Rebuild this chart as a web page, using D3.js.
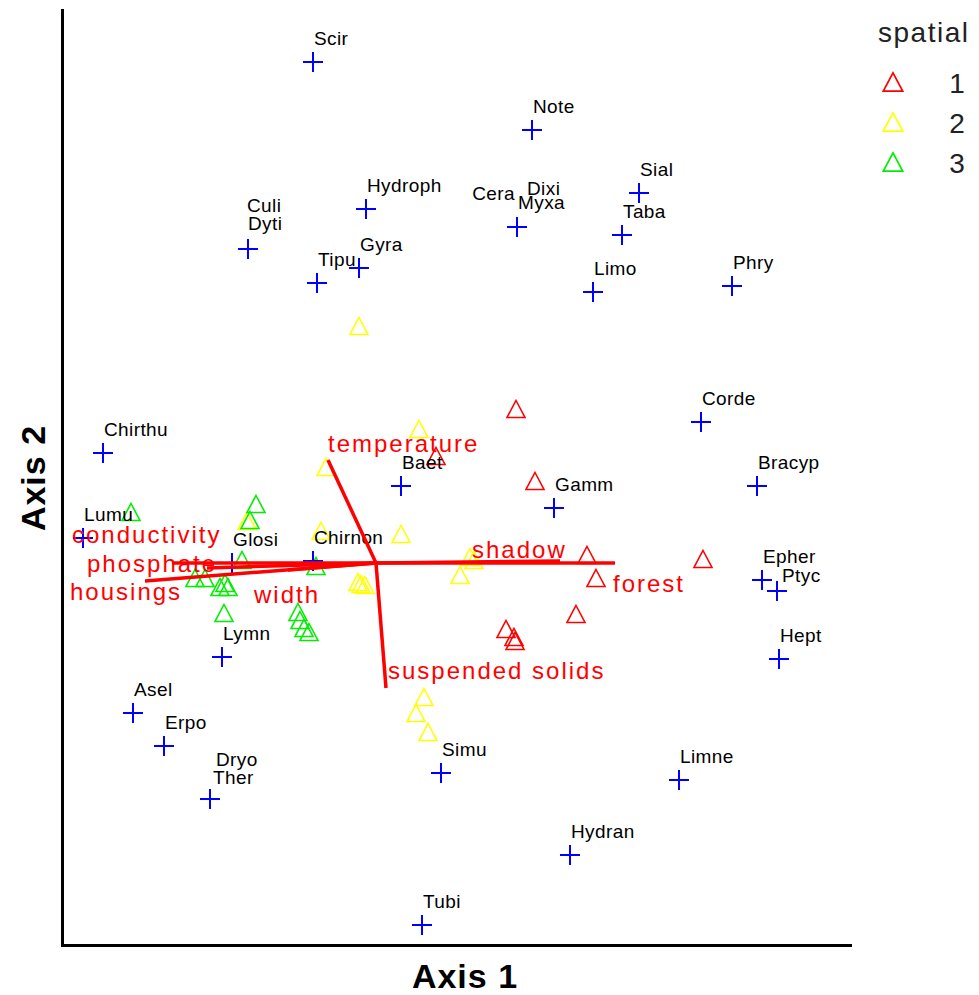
<!DOCTYPE html>
<html lang="en">
<head>
<meta charset="UTF-8">
<title>Ordination biplot</title>
<script src="https://d3js.org/d3.v7.min.js"></script>
<style>
    body { margin: 0; background: #fff; }
    text { font-family: "Liberation Sans", Arial, sans-serif; }
</style>
</head>
<body>
<svg width="979" height="995" id="svg1"></svg>
<script>
    // species scores (blue crosses)
    var speciesNames = ["Scir", "Note", "Sial", "Taba", "Cera", "Dixi", "Myxa", "Hydroph", "Culi", "Dyti",
        "Gyra", "Tipu", "Limo", "Phry", "Corde", "Bracyp", "Epher", "Ptyc", "Hept", "Gamm",
        "Baet", "Chirnon", "Glosi", "Chirthu", "Lumu", "Lymn", "Asel", "Erpo", "Dryo", "Ther",
        "Simu", "Limne", "Hydran", "Tubi"];
    var speciesX = [-0.63, 1.56, 2.63, 2.46, 1.41, 1.41, 1.41, -0.10, -1.28, -1.28,
        -0.17, -0.59, 2.17, 3.56, 3.25, 3.81, 3.86, 4.01, 4.03, 1.78,
        0.25, -0.63, -1.44, -2.73, -2.93, -1.54, -2.43, -2.12, -1.66, -1.66,
        0.65, 3.03, 1.94, 0.46];
    var speciesY = [5.01, 4.33, 3.70, 3.28, 3.36, 3.36, 3.36, 3.54, 3.14, 3.14,
        2.95, 2.80, 2.71, 2.77, 1.41, 0.77, -0.17, -0.28, -0.96, 0.55,
        0.77, 0.02, 0.00, 1.10, 0.25, -0.94, -1.50, -1.83, -2.36, -2.36,
        -2.10, -2.17, -2.92, -3.62];

    // site scores by spatial group
    var groups = ["1", "2", "3"];
    var sites1 = [[1.40, 1.54], [1.59, 0.82], [2.11, 0.08], [2.20, -0.15], [3.27, 0.04],
        [2.00, -0.51], [1.30, -0.66], [1.38, -0.74], [1.39, -0.78], [0.60, 1.07]];
    var sites2 = [[-0.17, 2.37], [0.43, 1.34], [-0.50, 0.96], [-0.55, 0.32], [0.25, 0.29],
        [-0.18, -0.19], [-0.15, -0.21], [-0.11, -0.22], [0.84, -0.12], [0.94, 0.06],
        [0.98, 0.03], [0.48, -1.34], [0.40, -1.50], [0.52, -1.69], [-1.29, 0.42]];
    var sites3 = [[-2.45, 0.51], [-1.20, 0.59], [-1.26, 0.43], [-1.34, 0.03], [-1.81, -0.15],
        [-1.71, -0.15], [-1.56, -0.24], [-1.48, -0.24], [-1.51, -0.20], [-1.52, -0.50],
        [-0.78, -0.49], [-0.76, -0.57], [-0.72, -0.65], [-0.67, -0.69], [-0.60, -0.03]];

    // environmental variables (biplot arrows)
    var envNames = ["temperature", "suspended solids", "shadow", "forest",
        "conductivity", "phosphate", "housings", "width"];
    var envX = [-0.48, 0.10, 1.84, 2.39, -2.04, -1.69, -2.31, -0.88];
    var envY = [1.03, -1.25, 0.02, 0.00, 0.00, -0.05, -0.18, -0.07];

    var groupColors = ["#ff0000", "#ffff00", "#00ee00"];

    // label placement tweaks (px): [dx, dy, anchor]
    var speciesNudge = {
        Cera: [-2, -27, "end"], Dixi: [10, -32], Myxa: [1, -18],
        Culi: [-1, -37], Dyti: [0, -19],
        Dryo: [6, -33], Ther: [3, -15], Ptyc: [5, -9]
    };
    var envNudge = {
        "temperature": [0, -8], "suspended solids": [2, -9], "shadow": [-88, -3],
        "forest": [-2, 29], "conductivity": [-100, -20], "phosphate": [-120, 4],
        "housings": [-75, 19], "width": [-34, 33]
    };

    var svg = d3.select("#svg1");

    var x = d3.scaleLinear().domain([-3.14, 4.74]).range([62, 850]),
        y = d3.scaleLinear().domain([-3.82, 5.53]).range([945, 10]);

    svg.append("g")
        .attr("transform", "translate(0,945)")
        .call(d3.axisBottom(x).ticks(0).tickSizeOuter(0));
    svg.append("g")
        .attr("transform", "translate(62,0)")
        .call(d3.axisLeft(y).ticks(0).tickSizeOuter(0));
    svg.selectAll(".domain")
        .attr("stroke", "#000")
        .attr("stroke-width", 3)
        .attr("stroke-linecap", "square");

    svg.append("text")
        .attr("x", 465)
        .attr("y", 988)
        .attr("text-anchor", "middle")
        .attr("font-size", "34px")
        .attr("font-weight", "bold")
        .attr("letter-spacing", "1px")
        .text("Axis 1");
    svg.append("text")
        .attr("transform", "translate(45,478) rotate(-90)")
        .attr("text-anchor", "middle")
        .attr("font-size", "34px")
        .attr("font-weight", "bold")
        .attr("letter-spacing", "1px")
        .text("Axis 2");

    var tri = "M0,-8.5L9,8.5L-9,8.5Z";
    var sites = [];
    [sites1, sites2, sites3].forEach(function (arr, i) {
        arr.forEach(function (p) {
            sites.push({ x: p[0], y: p[1], g: i });
        });
    });

    svg.append("g").selectAll("path")
        .data(sites)
        .enter().append("path")
        .attr("d", tri)
        .attr("transform", function (d) {
            return "translate(" + x(d.x) + "," + y(d.y) + ")";
        })
        .attr("fill", "none")
        .attr("stroke", function (d) { return groupColors[d.g]; })
        .attr("stroke-width", 1.6);

    var species = speciesNames.map(function (n, i) {
        return { name: n, x: speciesX[i], y: speciesY[i] };
    });

    svg.append("g").selectAll("path")
        .data(species)
        .enter().append("path")
        .attr("d", "M-10,0H10M0,-10V10")
        .attr("transform", function (d) {
            return "translate(" + x(d.x) + "," + y(d.y) + ")";
        })
        .attr("stroke", "#0000ff")
        .attr("stroke-width", 2);

    svg.append("g").selectAll("text")
        .data(species)
        .enter().append("text")
        .attr("x", function (d) {
            var n = speciesNudge[d.name] || [1, -17];
            return x(d.x) + n[0];
        })
        .attr("y", function (d) {
            var n = speciesNudge[d.name] || [1, -17];
            return y(d.y) + n[1];
        })
        .attr("text-anchor", function (d) {
            var n = speciesNudge[d.name];
            return n && n[2] ? n[2] : "start";
        })
        .attr("font-size", "19px")
        .attr("letter-spacing", "0.4px")
        .attr("fill", "#000")
        .text(function (d) { return d.name; });

    var env = envNames.map(function (n, i) {
        return { name: n, x: envX[i], y: envY[i] };
    });

    svg.append("g").selectAll("line")
        .data(env)
        .enter().append("line")
        .attr("x1", x(0))
        .attr("y1", y(0))
        .attr("x2", function (d) { return x(d.x); })
        .attr("y2", function (d) { return y(d.y); })
        .attr("stroke", "#ff0000")
        .attr("stroke-width", 3.5);

    svg.append("g").selectAll("text")
        .data(env)
        .enter().append("text")
        .attr("x", function (d) { return x(d.x) + envNudge[d.name][0]; })
        .attr("y", function (d) { return y(d.y) + envNudge[d.name][1]; })
        .attr("font-size", "24px")
        .attr("letter-spacing", "2px")
        .attr("fill", "#ff0000")
        .text(function (d) { return d.name; });

    // legend
    var legend = svg.append("g");
    legend.append("text")
        .attr("x", 878)
        .attr("y", 42)
        .attr("font-size", "28px")
        .attr("letter-spacing", "1.5px")
        .attr("fill", "#222")
        .text("spatial");
    var item = legend.selectAll(".item")
        .data(groups)
        .enter().append("g")
        .attr("class", "item")
        .attr("transform", function (d, i) { return "translate(0," + (82 + i * 40) + ")"; });
    item.append("path")
        .attr("d", tri)
        .attr("transform", "translate(893,0) scale(1.08)")
        .attr("fill", "none")
        .attr("stroke", function (d, i) { return groupColors[i]; })
        .attr("stroke-width", 1.6);
    item.append("text")
        .attr("x", 957)
        .attr("y", 11)
        .attr("text-anchor", "middle")
        .attr("font-size", "28px")
        .attr("fill", "#222")
        .text(function (d) { return d; });
</script>
</body>
</html>
